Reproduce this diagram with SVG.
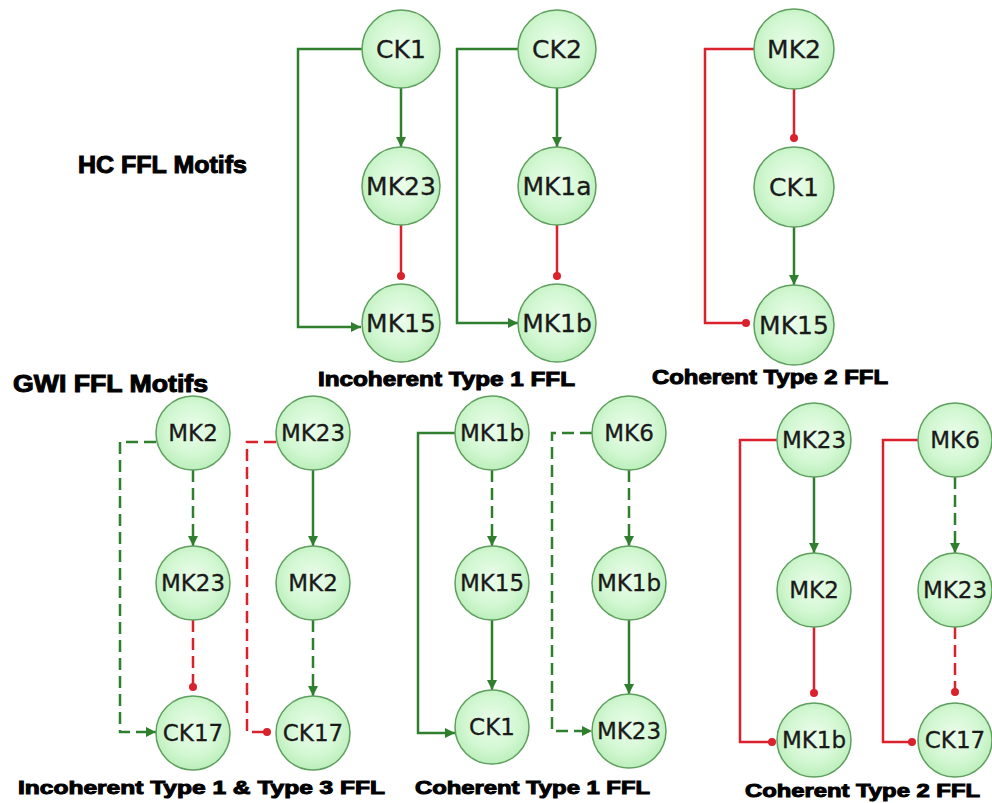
<svg xmlns="http://www.w3.org/2000/svg" width="992" height="803" viewBox="0 0 992 803">
  <defs>
    <radialGradient id="nodeFill" cx="50%" cy="45%" r="60%">
      <stop offset="0" stop-color="#ecfdec"/>
      <stop offset="0.6" stop-color="#d2f7d2"/>
      <stop offset="1" stop-color="#b6ecb6"/>
    </radialGradient>
    <marker id="arrow" viewBox="0 0 10 10" refX="10" refY="5" markerWidth="10" markerHeight="10" markerUnits="userSpaceOnUse" orient="auto">
      <path d="M0,0 L10,5 L0,10 Z" fill="#2f7f2f"/>
    </marker>
    <marker id="dot" viewBox="0 0 10 10" refX="5" refY="5" markerWidth="8" markerHeight="8" markerUnits="userSpaceOnUse" orient="auto">
      <circle cx="5" cy="5" r="5" fill="#d9222c"/>
    </marker>
  </defs>
  <style>
    .node circle { fill: url(#nodeFill); stroke: #5e9f5e; stroke-width: 1.5; }
    .node text { font-family: "DejaVu Sans", sans-serif; fill: #1a1a1a; stroke: #1a1a1a; stroke-width: 0.3; text-anchor: middle; dominant-baseline: central; }
    .big text { font-size: 25px; }
    .small text { font-size: 23px; }
    .act { fill: none; stroke: #2f7f2f; stroke-width: 2.5; marker-end: url(#arrow); }
    .inh { fill: none; stroke: #d9222c; stroke-width: 2.5; marker-end: url(#dot); }
    .dash { stroke-dasharray: 12 6; }
    .title { font-family: "Liberation Sans", Arial, sans-serif; font-weight: bold; fill: #000; stroke: #000; stroke-width: 1; }
  </style>

  <!-- connectors -->
  <g id="connectors">
    <!-- HC: Incoherent Type 1 FFL (CK1 / MK23 / MK15) -->
    <path class="act" d="M401,88 V147"/>
    <path class="inh" d="M401,225 V276"/>
    <path class="act" d="M362,49 H298 V327 H361"/>
    <!-- HC: Incoherent Type 1 FFL (CK2 / MK1a / MK1b) -->
    <path class="act" d="M557,88 V147"/>
    <path class="inh" d="M557,225 V276"/>
    <path class="act" d="M518,49 H457 V323 H518"/>
    <!-- HC: Coherent Type 2 FFL (MK2 / CK1 / MK15) -->
    <path class="inh" d="M794,89 V138"/>
    <path class="act" d="M794,227 V285"/>
    <path class="inh" d="M754,49 H705 V323 H746"/>

    <!-- GWI: MK2 / MK23 / CK17 -->
    <path class="act dash" d="M193,470 V546"/>
    <path class="inh dash" d="M193,620 V687"/>
    <path class="act dash" d="M156,442 H120 V732 H156"/>
    <!-- GWI: MK23 / MK2 / CK17 -->
    <path class="act" d="M313,470 V546"/>
    <path class="act dash" d="M313,620 V696"/>
    <path class="inh dash" d="M276,442 H247 V732 H267"/>
    <!-- GWI: MK1b / MK15 / CK1 -->
    <path class="act dash" d="M492,470 V546"/>
    <path class="act" d="M492,620 V690"/>
    <path class="act" d="M455,433 H418 V733 H455"/>
    <!-- GWI: MK6 / MK1b / MK23 -->
    <path class="act dash" d="M629,470 V546"/>
    <path class="act" d="M629,620 V694"/>
    <path class="act dash" d="M592,433 H552 V731 H592"/>
    <!-- GWI: MK23 / MK2 / MK1b -->
    <path class="act" d="M814,477 V553"/>
    <path class="inh" d="M814,627 V693"/>
    <path class="inh" d="M777,440 H740 V742 H772"/>
    <!-- GWI: MK6 / MK23 / CK17 -->
    <path class="act dash" d="M955,477 V553"/>
    <path class="inh dash" d="M955,627 V692"/>
    <path class="inh" d="M918,440 H883 V742 H912"/>
  </g>

  <!-- HC nodes -->
  <g id="hc-ck1-a" class="node big"><circle cx="401" cy="49" r="39"/><text x="401" y="49">CK1</text></g>
  <g id="hc-mk23" class="node big"><circle cx="401" cy="186" r="39"/><text x="401" y="186">MK23</text></g>
  <g id="hc-mk15-a" class="node big"><circle cx="401" cy="323" r="39"/><text x="401" y="323">MK15</text></g>
  <g id="hc-ck2" class="node big"><circle cx="557" cy="49" r="39"/><text x="557" y="49">CK2</text></g>
  <g id="hc-mk1a" class="node big"><circle cx="557" cy="186" r="39"/><text x="557" y="186">MK1a</text></g>
  <g id="hc-mk1b" class="node big"><circle cx="557" cy="323" r="39"/><text x="557" y="323">MK1b</text></g>
  <g id="hc-mk2" class="node big"><circle cx="794" cy="49" r="40"/><text x="794" y="49">MK2</text></g>
  <g id="hc-ck1-b" class="node big"><circle cx="794" cy="187" r="40"/><text x="794" y="187">CK1</text></g>
  <g id="hc-mk15-b" class="node big"><circle cx="794" cy="325" r="40"/><text x="794" y="325">MK15</text></g>

  <!-- GWI nodes -->
  <g id="gwi-mk2-a" class="node small"><circle cx="193" cy="433" r="37"/><text x="193" y="433">MK2</text></g>
  <g id="gwi-mk23-a" class="node small"><circle cx="193" cy="583" r="37"/><text x="193" y="583">MK23</text></g>
  <g id="gwi-ck17-a" class="node small"><circle cx="193" cy="733" r="37"/><text x="193" y="733">CK17</text></g>
  <g id="gwi-mk23-b" class="node small"><circle cx="313" cy="433" r="37"/><text x="313" y="433">MK23</text></g>
  <g id="gwi-mk2-b" class="node small"><circle cx="313" cy="583" r="37"/><text x="313" y="583">MK2</text></g>
  <g id="gwi-ck17-b" class="node small"><circle cx="313" cy="733" r="37"/><text x="313" y="733">CK17</text></g>
  <g id="gwi-mk1b-a" class="node small"><circle cx="492" cy="433" r="37"/><text x="492" y="433">MK1b</text></g>
  <g id="gwi-mk15" class="node small"><circle cx="492" cy="583" r="37"/><text x="492" y="583">MK15</text></g>
  <g id="gwi-ck1" class="node small"><circle cx="492" cy="727" r="37"/><text x="492" y="727">CK1</text></g>
  <g id="gwi-mk6-a" class="node small"><circle cx="629" cy="433" r="37"/><text x="629" y="433">MK6</text></g>
  <g id="gwi-mk1b-b" class="node small"><circle cx="629" cy="583" r="37"/><text x="629" y="583">MK1b</text></g>
  <g id="gwi-mk23-c" class="node small"><circle cx="629" cy="731" r="37"/><text x="629" y="731">MK23</text></g>
  <g id="gwi-mk23-d" class="node small"><circle cx="814" cy="440" r="37"/><text x="814" y="440">MK23</text></g>
  <g id="gwi-mk2-c" class="node small"><circle cx="814" cy="590" r="37"/><text x="814" y="590">MK2</text></g>
  <g id="gwi-mk1b-c" class="node small"><circle cx="814" cy="740" r="37"/><text x="814" y="740">MK1b</text></g>
  <g id="gwi-mk6-b" class="node small"><circle cx="955" cy="440" r="37"/><text x="955" y="440">MK6</text></g>
  <g id="gwi-mk23-e" class="node small"><circle cx="955" cy="590" r="37"/><text x="955" y="590">MK23</text></g>
  <g id="gwi-ck17-c" class="node small"><circle cx="955" cy="740" r="37"/><text x="955" y="740">CK17</text></g>

  <!-- section and motif titles -->
  <text class="title" x="78" y="173" font-size="24" textLength="169" lengthAdjust="spacingAndGlyphs">HC FFL Motifs</text>
  <text class="title" x="13" y="392" font-size="23" textLength="195" lengthAdjust="spacingAndGlyphs">GWI FFL Motifs</text>
  <text class="title" x="318" y="386" font-size="20" textLength="257" lengthAdjust="spacingAndGlyphs">Incoherent Type 1 FFL</text>
  <text class="title" x="652" y="384" font-size="20" textLength="236" lengthAdjust="spacingAndGlyphs">Coherent Type 2 FFL</text>
  <text class="title" x="18" y="794" font-size="19" textLength="367" lengthAdjust="spacingAndGlyphs">Incoherent Type 1 &amp; Type 3 FFL</text>
  <text class="title" x="415" y="794" font-size="19" textLength="235" lengthAdjust="spacingAndGlyphs">Coherent Type 1 FFL</text>
  <text class="title" x="745" y="797" font-size="19" textLength="235" lengthAdjust="spacingAndGlyphs">Coherent Type 2 FFL</text>
</svg>
